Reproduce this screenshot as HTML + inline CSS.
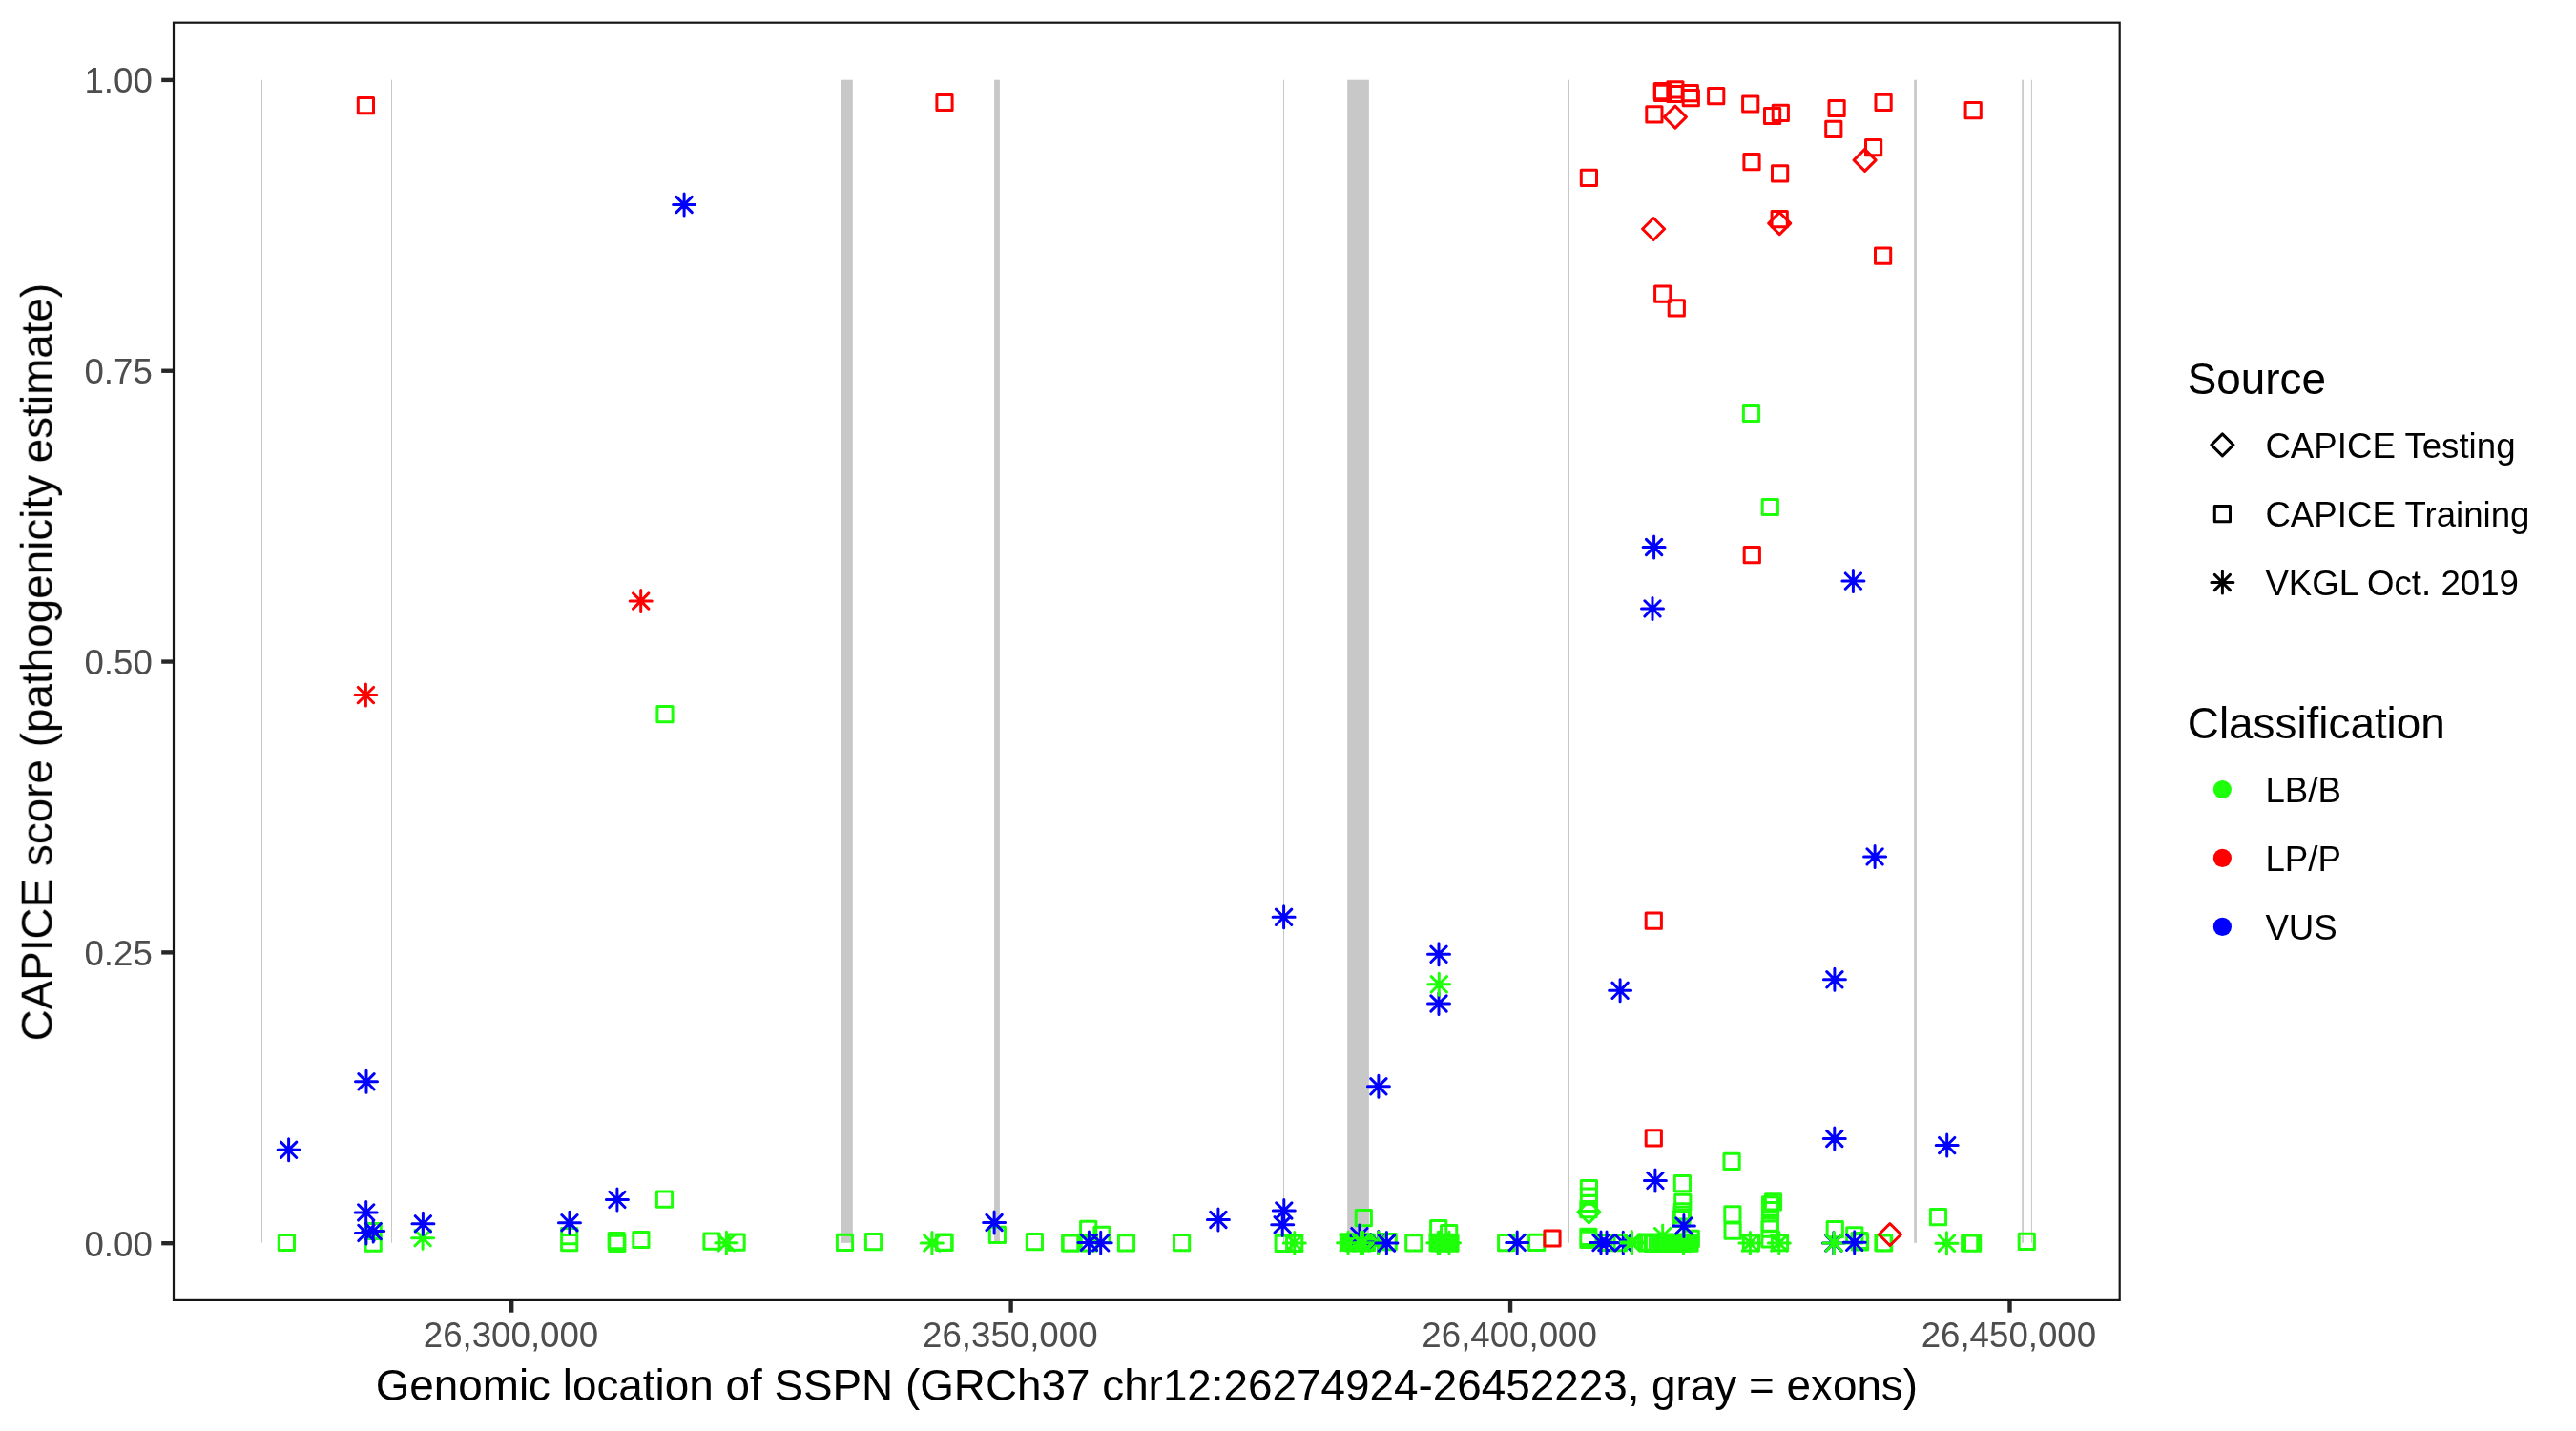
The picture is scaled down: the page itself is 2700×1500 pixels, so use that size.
<!DOCTYPE html>
<html lang="en">
<head>
<meta charset="utf-8">
<title>CAPICE score along SSPN</title>
<style>html,body{margin:0;padding:0;background:#fff}body{width:2700px;height:1500px;overflow:hidden}svg{display:block}</style>
</head>
<body>
<svg width="2700" height="1500" viewBox="0 0 2700 1500" role="img" aria-label="CAPICE score along SSPN">
<rect width="2700" height="1500" fill="#FFFFFF"/>
<g fill="#C8C8C8">
<rect x="881.1" y="83.7" width="12.7" height="1219.1"/>
<rect x="1042.1" y="83.7" width="5.8" height="1219.1"/>
<rect x="1412.2" y="83.7" width="22.7" height="1219.1"/>
<rect x="2006.2" y="83.7" width="2.7" height="1219.1"/>
<rect x="2119.2" y="83.7" width="1.7" height="1219.1"/>
<rect x="274" y="83.7" width="1" height="1219.1"/>
<rect x="410" y="83.7" width="1" height="1219.1"/>
<rect x="1345" y="83.7" width="1" height="1219.1"/>
<rect x="1644" y="83.7" width="1" height="1219.1"/>
<rect x="2128.9" y="83.7" width="1" height="1219.1"/>
</g>
<g fill="none" stroke-width="3">
<path d="M292.3 1294.4h16.2v16.2h-16.2zM383.1 1295.1h16.2v16.2h-16.2zM383.1 1282.4h16.2v16.2h-16.2zM588.6 1294.6h16.2v16.2h-16.2zM588.6 1287.6h16.2v16.2h-16.2zM638.1 1292.5h16.2v16.2h-16.2zM638.4 1293.9h16.2v16.2h-16.2zM638.7 1295.3h16.2v16.2h-16.2zM663.8 1291.4h16.2v16.2h-16.2zM688.4 1249.1h16.2v16.2h-16.2zM688.9 740.5h16.2v16.2h-16.2zM737.9 1293h16.2v16.2h-16.2zM764 1294h16.2v16.2h-16.2zM877.4 1294.2h16.2v16.2h-16.2zM907.4 1293.5h16.2v16.2h-16.2zM981.4 1294h16.2v16.2h-16.2zM982 1294.4h16.2v16.2h-16.2zM1037.3 1286.2h16.2v16.2h-16.2zM1076.3 1293.5h16.2v16.2h-16.2zM1113.6 1294.7h16.2v16.2h-16.2zM1114.2 1295h16.2v16.2h-16.2zM1133.3 1294.7h16.2v16.2h-16.2zM1132.6 1280.3h16.2v16.2h-16.2zM1146.9 1286.2h16.2v16.2h-16.2zM1172.4 1294.7h16.2v16.2h-16.2zM1230.5 1294.5h16.2v16.2h-16.2zM1337.1 1295.2h16.2v16.2h-16.2zM1348.6 1295.2h16.2v16.2h-16.2zM1421.2 1268.6h16.2v16.2h-16.2zM1447.1 1293.5h16.2v16.2h-16.2zM1473.7 1294.7h16.2v16.2h-16.2zM1499.6 1279.5h16.2v16.2h-16.2zM1510.55 1284.5h16.2v16.2h-16.2zM1570.6 1294.6h16.2v16.2h-16.2zM1602.6 1294.3h16.2v16.2h-16.2zM1657.3 1237.4h16.2v16.2h-16.2zM1657.3 1246h16.2v16.2h-16.2zM1657.3 1253.3h16.2v16.2h-16.2zM1656.8 1259.6h16.2v16.2h-16.2zM1656.8 1288.3h16.2v16.2h-16.2zM1656.8 1291.2h16.2v16.2h-16.2zM1675.9 1294.4h16.2v16.2h-16.2zM1688.4 1294.5h16.2v16.2h-16.2zM1764.2 1290.3h16.2v16.2h-16.2zM1762.9 1295h16.2v16.2h-16.2zM1755.3 1232.6h16.2v16.2h-16.2zM1755.7 1252.3h16.2v16.2h-16.2zM1755.3 1261.7h16.2v16.2h-16.2zM1754.9 1265.15h16.2v16.2h-16.2zM1754.3 1269.4h16.2v16.2h-16.2zM1807 1209.35h16.2v16.2h-16.2zM1807.8 1264.8h16.2v16.2h-16.2zM1808 1282.1h16.2v16.2h-16.2zM1827.4 425.4h16.2v16.2h-16.2zM1847.2 523.4h16.2v16.2h-16.2zM1827.3 1294.9h16.2v16.2h-16.2zM1850.4 1251.8h16.2v16.2h-16.2zM1847.4 1254.65h16.2v16.2h-16.2zM1847.4 1260.47h16.2v16.2h-16.2zM1847.3 1274.17h16.2v16.2h-16.2zM1846.9 1280.04h16.2v16.2h-16.2zM1846.9 1290.85h16.2v16.2h-16.2zM1857.4 1294.5h16.2v16.2h-16.2zM1915.15 1280.5h16.2v16.2h-16.2zM1935.7 1286.7h16.2v16.2h-16.2zM1941 1292.4h16.2v16.2h-16.2zM1941.4 1293.7h16.2v16.2h-16.2zM1965.9 1294.5h16.2v16.2h-16.2zM1966.5 1294.9h16.2v16.2h-16.2zM2023.4 1267.5h16.2v16.2h-16.2zM2056.6 1295.1h16.2v16.2h-16.2zM2058 1295.1h16.2v16.2h-16.2zM2059.5 1295.1h16.2v16.2h-16.2zM2116.2 1293.2h16.2v16.2h-16.2zM1405.35 1293.8h16.2v16.2h-16.2zM1408.09 1294.3h16.2v16.2h-16.2zM1410.83 1294.8h16.2v16.2h-16.2zM1413.57 1293.8h16.2v16.2h-16.2zM1416.31 1294.3h16.2v16.2h-16.2zM1419.05 1294.8h16.2v16.2h-16.2zM1421.79 1293.8h16.2v16.2h-16.2zM1424.53 1294.3h16.2v16.2h-16.2zM1499 1294.3h16.2v16.2h-16.2zM1501.7 1294.7h16.2v16.2h-16.2zM1504.4 1295.1h16.2v16.2h-16.2zM1507.1 1294.3h16.2v16.2h-16.2zM1509.8 1294.7h16.2v16.2h-16.2zM1511.9 1295.1h16.2v16.2h-16.2zM1717.6 1294.1h16.2v16.2h-16.2zM1720.6 1294.7h16.2v16.2h-16.2zM1724.3 1295.3h16.2v16.2h-16.2zM1725.4 1294.1h16.2v16.2h-16.2zM1729.45 1294.7h16.2v16.2h-16.2zM1733.5 1294.1h16.2v16.2h-16.2zM1736.3 1294.7h16.2v16.2h-16.2zM1739.1 1295.3h16.2v16.2h-16.2zM1741.9 1294.1h16.2v16.2h-16.2zM1744.7 1294.7h16.2v16.2h-16.2zM1747.5 1295.3h16.2v16.2h-16.2zM1750.3 1294.1h16.2v16.2h-16.2zM1753.1 1294.7h16.2v16.2h-16.2zM1755.9 1295.3h16.2v16.2h-16.2zM1758.7 1294.1h16.2v16.2h-16.2zM1761.5 1294.7h16.2v16.2h-16.2z" stroke="#1EFF0A" stroke-linecap="round" stroke-linejoin="round"/>
<path d="M375.3 102.5h16.2v16.2h-16.2zM981.9 99.4h16.2v16.2h-16.2zM1657.3 178.3h16.2v16.2h-16.2zM1725.8 111.7h16.2v16.2h-16.2zM1734.2 87.6h16.2v16.2h-16.2zM1734.5 89.2h16.2v16.2h-16.2zM1747.8 85.8h16.2v16.2h-16.2zM1747.8 90.4h16.2v16.2h-16.2zM1763.2 89.5h16.2v16.2h-16.2zM1764.2 94.5h16.2v16.2h-16.2zM1790.6 92.55h16.2v16.2h-16.2zM1826.6 100.9h16.2v16.2h-16.2zM1849.5 113.4h16.2v16.2h-16.2zM1858.2 110.3h16.2v16.2h-16.2zM1917 105.4h16.2v16.2h-16.2zM1913.7 127.3h16.2v16.2h-16.2zM1827.9 161.5h16.2v16.2h-16.2zM1857.5 173.8h16.2v16.2h-16.2zM1857.1 221.6h16.2v16.2h-16.2zM1966 99.3h16.2v16.2h-16.2zM1955.5 146.5h16.2v16.2h-16.2zM2060.1 107.5h16.2v16.2h-16.2zM1965.5 260h16.2v16.2h-16.2zM1734.6 300.1h16.2v16.2h-16.2zM1749.2 314.7h16.2v16.2h-16.2zM1828.2 573.6h16.2v16.2h-16.2zM1725.2 957.1h16.2v16.2h-16.2zM1725.2 1184.8h16.2v16.2h-16.2z" stroke="#FF0000" stroke-linecap="round" stroke-linejoin="round"/>
<path d="M1618.9 1289.9h16.2v16.2h-16.2z" stroke="#FF0000" stroke-linecap="round" stroke-linejoin="round"/>
<path d="M1665.4 1259l11.5 11.5l-11.5 11.5l-11.5 -11.5z" stroke="#1EFF0A" stroke-linecap="round" stroke-linejoin="round"/>
<path d="M1755.9 111.1l11.5 11.5l-11.5 11.5l-11.5 -11.5zM1733.1 228.5l11.5 11.5l-11.5 11.5l-11.5 -11.5zM1865.2 222.6l11.5 11.5l-11.5 11.5l-11.5 -11.5zM1954.6 156.4l11.5 11.5l-11.5 11.5l-11.5 -11.5zM1980.9 1282.5l11.5 11.5l-11.5 11.5l-11.5 -11.5z" stroke="#FF0000" stroke-linecap="round" stroke-linejoin="round"/>
<path d="M1496.5 1052h23M1508 1040.5v23M1499.86 1043.86l16.28 16.28M1499.86 1060.14l16.28 -16.28M1413.4 1295.6h23M1424.9 1284.1v23M1416.76 1287.46l16.28 16.28M1416.76 1303.74l16.28 -16.28M1433.3 1301.9h23M1444.8 1290.4v23M1436.66 1293.76l16.28 16.28M1436.66 1310.04l16.28 -16.28M1689.8 1302.7h23M1701.3 1291.2v23M1693.16 1294.56l16.28 16.28M1693.16 1310.84l16.28 -16.28M1910.4 1303h23M1921.9 1291.5v23M1913.76 1294.86l16.28 16.28M1913.76 1311.14l16.28 -16.28" stroke="#0000FF" stroke-linecap="round" stroke-linejoin="round"/>
<path d="M431.6 1297.65h23M443.1 1286.15v23M434.96 1289.51l16.28 16.28M434.96 1305.79l16.28 -16.28M749.9 1302.8h23M761.4 1291.3v23M753.26 1294.66l16.28 16.28M753.26 1310.94l16.28 -16.28M965.4 1303h23M976.9 1291.5v23M968.76 1294.86l16.28 16.28M968.76 1311.14l16.28 -16.28M1345.3 1302.9h23M1356.8 1291.4v23M1348.66 1294.76l16.28 16.28M1348.66 1311.04l16.28 -16.28M1401.6 1302.8h23M1413.1 1291.3v23M1404.96 1294.66l16.28 16.28M1404.96 1310.94l16.28 -16.28M1414.9 1302.8h23M1426.4 1291.3v23M1418.26 1294.66l16.28 16.28M1418.26 1310.94l16.28 -16.28M1417 1302.8h23M1428.5 1291.3v23M1420.36 1294.66l16.28 16.28M1420.36 1310.94l16.28 -16.28M1433.3 1302.8h23M1444.8 1291.3v23M1436.66 1294.66l16.28 16.28M1436.66 1310.94l16.28 -16.28M1496.8 1031.8h23M1508.3 1020.3v23M1500.16 1023.66l16.28 16.28M1500.16 1039.94l16.28 -16.28M1495.8 1302.8h23M1507.3 1291.3v23M1499.16 1294.66l16.28 16.28M1499.16 1310.94l16.28 -16.28M1497.3 1302.8h23M1508.8 1291.3v23M1500.66 1294.66l16.28 16.28M1500.66 1310.94l16.28 -16.28M1507.5 1302.8h23M1519 1291.3v23M1510.86 1294.66l16.28 16.28M1510.86 1310.94l16.28 -16.28M1698.8 1301.9h23M1710.3 1290.4v23M1702.16 1293.76l16.28 16.28M1702.16 1310.04l16.28 -16.28M1699 1303.1h23M1710.5 1291.6v23M1702.36 1294.96l16.28 16.28M1702.36 1311.24l16.28 -16.28M1731.2 1295.6h23M1742.7 1284.1v23M1734.56 1287.46l16.28 16.28M1734.56 1303.74l16.28 -16.28M1752.9 1302.8h23M1764.4 1291.3v23M1756.26 1294.66l16.28 16.28M1756.26 1310.94l16.28 -16.28M1822.9 1303h23M1834.4 1291.5v23M1826.26 1294.86l16.28 16.28M1826.26 1311.14l16.28 -16.28M1853.3 1303h23M1864.8 1291.5v23M1856.66 1294.86l16.28 16.28M1856.66 1311.14l16.28 -16.28M1910.8 1302.95h23M1922.3 1291.45v23M1914.16 1294.81l16.28 16.28M1914.16 1311.09l16.28 -16.28M2028.9 1303.2h23M2040.4 1291.7v23M2032.26 1295.06l16.28 16.28M2032.26 1311.34l16.28 -16.28" stroke="#1EFF0A" stroke-linecap="round" stroke-linejoin="round"/>
<path d="M371.9 728.6h23M383.4 717.1v23M375.26 720.46l16.28 16.28M375.26 736.74l16.28 -16.28M660.2 630h23M671.7 618.5v23M663.56 621.86l16.28 16.28M663.56 638.14l16.28 -16.28" stroke="#FF0000" stroke-linecap="round" stroke-linejoin="round"/>
<path d="M705.6 214.5h23M717.1 203v23M708.96 206.36l16.28 16.28M708.96 222.64l16.28 -16.28M1722.1 573.5h23M1733.6 562v23M1725.46 565.36l16.28 16.28M1725.46 581.64l16.28 -16.28M1720.5 637.9h23M1732 626.4v23M1723.86 629.76l16.28 16.28M1723.86 646.04l16.28 -16.28M1930.9 609.1h23M1942.4 597.6v23M1934.26 600.96l16.28 16.28M1934.26 617.24l16.28 -16.28M1334.1 961.3h23M1345.6 949.8v23M1337.46 953.16l16.28 16.28M1337.46 969.44l16.28 -16.28M1496.5 1000.3h23M1508 988.8v23M1499.86 992.16l16.28 16.28M1499.86 1008.44l16.28 -16.28M1953.6 897.9h23M1965.1 886.4v23M1956.96 889.76l16.28 16.28M1956.96 906.04l16.28 -16.28M1911.4 1026.8h23M1922.9 1015.3v23M1914.76 1018.66l16.28 16.28M1914.76 1034.94l16.28 -16.28M1686.6 1038.3h23M1698.1 1026.8v23M1689.96 1030.16l16.28 16.28M1689.96 1046.44l16.28 -16.28M372.5 1133.8h23M384 1122.3v23M375.86 1125.66l16.28 16.28M375.86 1141.94l16.28 -16.28M291.1 1205.3h23M302.6 1193.8v23M294.46 1197.16l16.28 16.28M294.46 1213.44l16.28 -16.28M372.2 1270.9h23M383.7 1259.4v23M375.56 1262.76l16.28 16.28M375.56 1279.04l16.28 -16.28M372.4 1292.4h23M383.9 1280.9v23M375.76 1284.26l16.28 16.28M375.76 1300.54l16.28 -16.28M379.7 1290.6h23M391.2 1279.1v23M383.06 1282.46l16.28 16.28M383.06 1298.74l16.28 -16.28M431.9 1282.85h23M443.4 1271.35v23M435.26 1274.71l16.28 16.28M435.26 1290.99l16.28 -16.28M585.45 1281.7h23M596.95 1270.2v23M588.81 1273.56l16.28 16.28M588.81 1289.84l16.28 -16.28M635.4 1257.4h23M646.9 1245.9v23M638.76 1249.26l16.28 16.28M638.76 1265.54l16.28 -16.28M1030.6 1281.5h23M1042.1 1270v23M1033.96 1273.36l16.28 16.28M1033.96 1289.64l16.28 -16.28M1129.9 1302.4h23M1141.4 1290.9v23M1133.26 1294.26l16.28 16.28M1133.26 1310.54l16.28 -16.28M1142.2 1302.8h23M1153.7 1291.3v23M1145.56 1294.66l16.28 16.28M1145.56 1310.94l16.28 -16.28M1265.4 1278.5h23M1276.9 1267v23M1268.76 1270.36l16.28 16.28M1268.76 1286.64l16.28 -16.28M1334.3 1269h23M1345.8 1257.5v23M1337.66 1260.86l16.28 16.28M1337.66 1277.14l16.28 -16.28M1332.7 1283.8h23M1344.2 1272.3v23M1336.06 1275.66l16.28 16.28M1336.06 1291.94l16.28 -16.28M1433.4 1138.8h23M1444.9 1127.3v23M1436.76 1130.66l16.28 16.28M1436.76 1146.94l16.28 -16.28M1441.9 1303h23M1453.4 1291.5v23M1445.26 1294.86l16.28 16.28M1445.26 1311.14l16.28 -16.28M1578.7 1302.4h23M1590.2 1290.9v23M1582.06 1294.26l16.28 16.28M1582.06 1310.54l16.28 -16.28M1666.5 1302.6h23M1678 1291.1v23M1669.86 1294.46l16.28 16.28M1669.86 1310.74l16.28 -16.28M1672.5 1302.6h23M1684 1291.1v23M1675.86 1294.46l16.28 16.28M1675.86 1310.74l16.28 -16.28M1723.4 1237.4h23M1734.9 1225.9v23M1726.76 1229.26l16.28 16.28M1726.76 1245.54l16.28 -16.28M1753.4 1284.9h23M1764.9 1273.4v23M1756.76 1276.76l16.28 16.28M1756.76 1293.04l16.28 -16.28M1911.3 1193.5h23M1922.8 1182v23M1914.66 1185.36l16.28 16.28M1914.66 1201.64l16.28 -16.28M1932.2 1302.3h23M1943.7 1290.8v23M1935.56 1294.16l16.28 16.28M1935.56 1310.44l16.28 -16.28M2029.2 1200.6h23M2040.7 1189.1v23M2032.56 1192.46l16.28 16.28M2032.56 1208.74l16.28 -16.28" stroke="#0000FF" stroke-linecap="round" stroke-linejoin="round"/>
</g>
<rect x="182" y="23.7" width="2039.7" height="1339.2" fill="none" stroke="#161616" stroke-width="2.2"/>
<g stroke="#272727" stroke-width="4.4">
<line x1="169.2" x2="181" y1="1303.2" y2="1303.2"/>
<line x1="169.2" x2="181" y1="998.38" y2="998.38"/>
<line x1="169.2" x2="181" y1="693.55" y2="693.55"/>
<line x1="169.2" x2="181" y1="388.73" y2="388.73"/>
<line x1="169.2" x2="181" y1="83.9" y2="83.9"/>
<line x1="536.2" x2="536.2" y1="1363.9" y2="1375.7"/>
<line x1="1059.6" x2="1059.6" y1="1363.9" y2="1375.7"/>
<line x1="1583.05" x2="1583.05" y1="1363.9" y2="1375.7"/>
<line x1="2106.5" x2="2106.5" y1="1363.9" y2="1375.7"/>
</g>
<g font-family="'Liberation Sans', sans-serif" opacity="0.999">
<g font-size="36.67" fill="#4D4D4D">
<text x="159.8" y="1316.8" text-anchor="end">0.00</text>
<text x="159.8" y="1011.8" text-anchor="end">0.25</text>
<text x="159.8" y="706.8" text-anchor="end">0.50</text>
<text x="159.8" y="401.8" text-anchor="end">0.75</text>
<text x="159.8" y="96.8" text-anchor="end">1.00</text>
<text x="535.5" y="1412.2" text-anchor="middle">26,300,000</text>
<text x="1058.8" y="1412.2" text-anchor="middle">26,350,000</text>
<text x="1582.1" y="1412.2" text-anchor="middle">26,400,000</text>
<text x="2105.4" y="1412.2" text-anchor="middle">26,450,000</text>
</g>
<g font-size="45.83" fill="#000000">
<text x="1201.85" y="1467.5" text-anchor="middle">Genomic location of SSPN (GRCh37 chr12:26274924-26452223, gray = exons)</text>
<text transform="translate(54.7,694.1) rotate(-90)" text-anchor="middle">CAPICE score (pathogenicity estimate)</text>
<text x="2292.8" y="412.9">Source</text>
<text x="2292.8" y="773.8">Classification</text>
</g>
<g font-size="36.67" fill="#000000">
<text x="2374.4" y="480.3">CAPICE Testing</text>
<text x="2374.4" y="552.2">CAPICE Training</text>
<text x="2374.4" y="624">VKGL Oct. 2019</text>
<text x="2374.4" y="840.6">LB/B</text>
<text x="2374.4" y="912.6">LP/P</text>
<text x="2374.4" y="984.5">VUS</text>
</g>
</g>
<g fill="none" stroke="#000000" stroke-width="3">
<path d="M2329.4 454.9l11.5 11.5l-11.5 11.5l-11.5 -11.5z" stroke="#000000" stroke-linecap="round" stroke-linejoin="round"/>
<path d="M2321.3 530.5h16.2v16.2h-16.2z" stroke="#000000" stroke-linecap="round" stroke-linejoin="round"/>
<path d="M2317.9 610.5h23M2329.4 599v23M2321.26 602.36l16.28 16.28M2321.26 618.64l16.28 -16.28" stroke="#000000" stroke-linecap="round" stroke-linejoin="round"/>
</g>
<circle cx="2329.4" cy="827.5" r="9.6" fill="#1EFF0A"/>
<circle cx="2329.4" cy="899.4" r="9.6" fill="#FF0000"/>
<circle cx="2329.4" cy="971.4" r="9.6" fill="#0000FF"/>
</svg>
</body>
</html>
